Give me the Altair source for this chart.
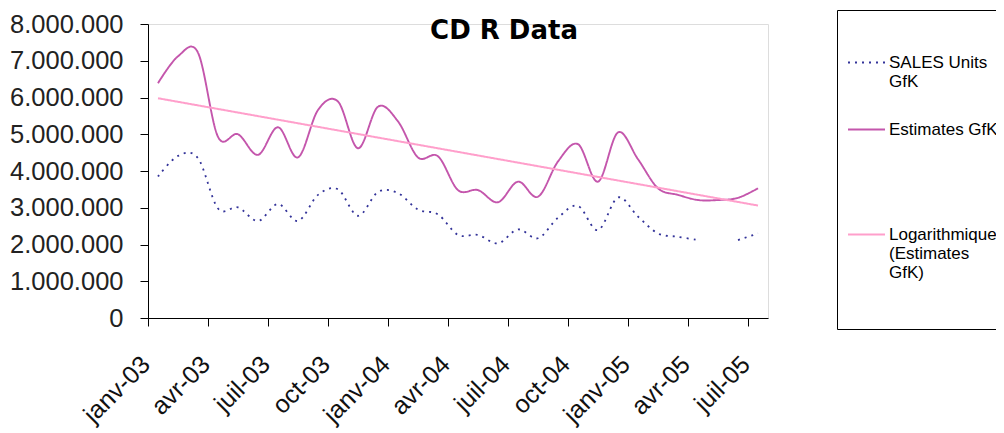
import altair as alt
import pandas as pd

# ---- data ----
months = [
    "janv-03", "févr-03", "mars-03", "avr-03", "mai-03", "juin-03",
    "juil-03", "août-03", "sept-03", "oct-03", "nov-03", "déc-03",
    "janv-04", "févr-04", "mars-04", "avr-04", "mai-04", "juin-04",
    "juil-04", "août-04", "sept-04", "oct-04", "nov-04", "déc-04",
    "janv-05", "févr-05", "mars-05", "avr-05", "mai-05", "juin-05",
    "juil-05",
]

sales_units_gfk = [
    3850000, 4410000, 4350000, 2980000, 3010000, 2640000,
    3100000, 2640000, 3350000, 3500000, 2780000, 3430000,
    3400000, 2950000, 2820000, 2260000, 2260000, 2030000,
    2410000, 2170000, 2730000, 3050000, 2390000, 3280000,
    2760000, 2300000, 2210000, 2120000, None, 2120000,
    2300000,
]

estimates_gfk = [
    6390000, 7120000, 7220000, 4930000, 5000000, 4440000,
    5190000, 4370000, 5660000, 5890000, 4620000, 5750000,
    5350000, 4370000, 4400000, 3480000, 3480000, 3150000,
    3710000, 3300000, 4260000, 4730000, 3710000, 5050000,
    4320000, 3530000, 3350000, 3210000, 3210000, 3270000,
    3530000,
]

trend_months = ["janv-03", "juil-05"]
trend_values = [5980000, 3060000]

series_names = ["SALES Units GfK", "Estimates GfK", "Logarithmique (Estimates GfK)"]
legend_label_lines = [
    ["SALES Units", "GfK"],
    ["Estimates GfK", "", "", ""],
    ["Logarithmique", "(Estimates", "GfK)", "", ""],
]
series_colors = ["#333399", "#C456AC", "#FF9FCB"]

x_tick_labels = ["janv-03", "avr-03", "juil-03", "oct-03", "janv-04", "avr-04",
                 "juil-04", "oct-04", "janv-05", "avr-05", "juil-05"]
y_ticks = [0, 1000000, 2000000, 3000000, 4000000, 5000000, 6000000, 7000000, 8000000]
chart_title = "CD R Data"

# ---- long table ----
rows = []
for m, v in zip(months, sales_units_gfk):
    rows.append({"month": m, "series": series_names[0], "value": v})
for m, v in zip(months, estimates_gfk):
    rows.append({"month": m, "series": series_names[1], "value": v})
for m, v in zip(trend_months, trend_values):
    rows.append({"month": m, "series": series_names[2], "value": v})
df = pd.DataFrame(rows)

def js_list(lines):
    return "[" + ", ".join("'" + s.replace("'", "\\'") + "'" for s in lines) + "]"

label_expr = (
    f"datum.label == '{series_names[0]}' ? {js_list(legend_label_lines[0])} : "
    f"datum.label == '{series_names[1]}' ? {js_list(legend_label_lines[1])} : "
    f"{js_list(legend_label_lines[2])}"
)

FONT = "Liberation Sans"
TITLE_FONT = "DejaVu Sans"

legend = alt.Legend(
    title=" ",
    orient="none",
    direction="vertical",
    legendX=689,
    legendY=-14,
    padding=10,
    strokeColor="#000000",
    fillColor="#FFFFFF",
    symbolType="stroke",
    symbolSize=1369,
    symbolStrokeWidth=2,
    labelFont=FONT,
    labelFontSize=17,
    labelColor="#000000",
    labelLimit=400,
    labelOffset=3,
    labelExpr=label_expr,
    rowPadding=20,
    titleFont=FONT,
    titleFontSize=17,
    titlePadding=6,
)

chart = (
    alt.Chart(df)
    .mark_line(interpolate="cardinal", tension=0, invalid="break-paths-show-domains")
    .encode(
        x=alt.X(
            "month:O",
            sort=months,
            scale=alt.Scale(type="band", domain=months, paddingInner=0, paddingOuter=0),
            axis=alt.Axis(
                values=x_tick_labels,
                bandPosition=0,
                title=None,
                grid=False,
                labelAngle=-45,
                labelAlign="right",
                labelBaseline="middle",
                labelPadding=34,
                labelOffset=-12,
                labelFont=FONT,
                labelFontSize=25,
                labelColor="#111111",
                tickSize=8,
                tickColor="#000000",
                domainColor="#000000",
                labelOverlap=False,
            ),
        ),
        y=alt.Y(
            "value:Q",
            scale=alt.Scale(domain=[0, 8000000], nice=False, zero=True),
            axis=alt.Axis(
                values=y_ticks,
                labelExpr="join(split(format(datum.value, ','), ','), '.')",
                title=None,
                grid=False,
                tickSize=8,
                labelPadding=17,
                labelFont=FONT,
                labelFontSize=25.5,
                labelColor="#222222",
                tickColor="#000000",
                domainColor="#000000",
            ),
        ),
        color=alt.Color(
            "series:N",
            scale=alt.Scale(domain=series_names, range=series_colors),
            legend=legend,
        ),
        strokeDash=alt.StrokeDash(
            "series:N",
            scale=alt.Scale(domain=series_names, range=[[2, 5], [1, 0], [1, 0]]),
            legend=legend,
        ),
        strokeWidth=alt.StrokeWidth(
            "series:N",
            scale=alt.Scale(domain=series_names, range=[1.8, 2.0, 1.8]),
            legend=None,
        ),
    )
    .properties(
        width=620,
        height=294,
        title=alt.TitleParams(
            text=chart_title,
            font=TITLE_FONT,
            fontSize=26,
            fontWeight="bold",
            color="#000000",
            anchor="middle",
            dx=46,
            dy=38,
        ),
        padding={"left": 140, "top": 16, "right": 228, "bottom": 112},
        autosize=alt.AutoSizeParams(type="none"),
    )
    .configure_view(strokeWidth=0)
    .configure(background="#FFFFFF")
)

chart.save("out.html", embed_options={"renderer": "svg", "actions": False})
